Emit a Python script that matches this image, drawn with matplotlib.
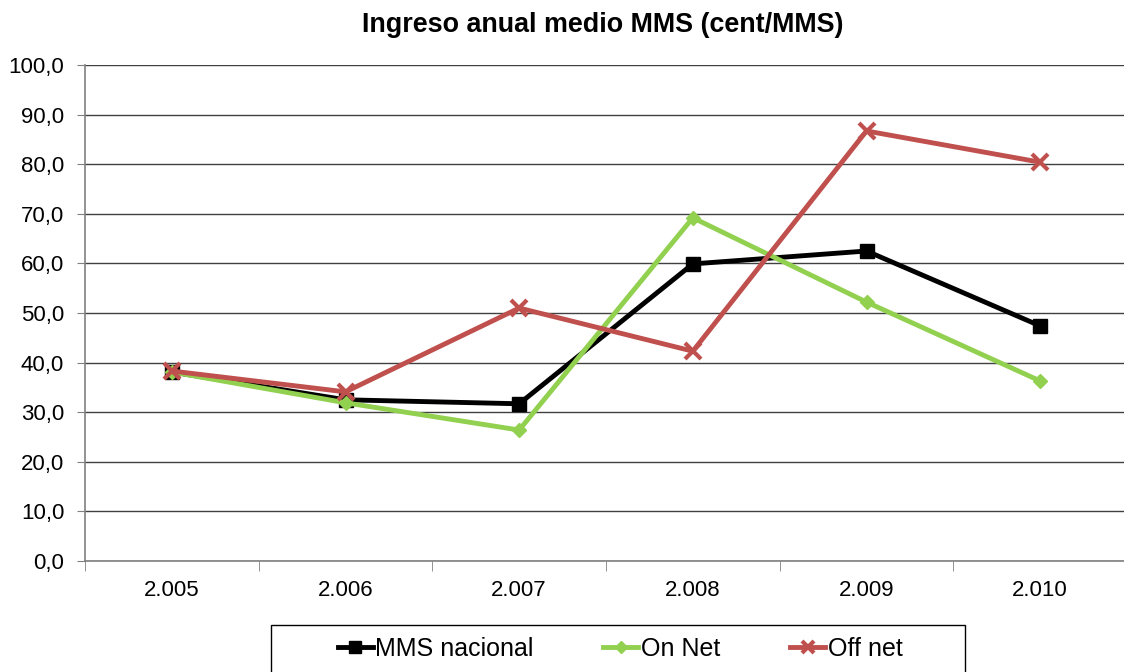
import matplotlib.pyplot as plt
from matplotlib.ticker import FixedLocator
from matplotlib.patches import Rectangle

plt.rcParams['font.family'] = ['Liberation Sans', 'DejaVu Sans']

years = ["2.005", "2.006", "2.007", "2.008", "2.009", "2.010"]
mms_nacional = [38.1, 32.5, 31.7, 59.9, 62.5, 47.4]
on_net = [38.1, 31.9, 26.4, 69.2, 52.2, 36.3]
off_net = [38.3, 34.1, 51.0, 42.3, 86.7, 80.4]

fig = plt.figure(figsize=(11.24, 6.72), dpi=100)
ax = fig.add_axes([85 / 1124, 1 - 561 / 672, 1042 / 1124, 496 / 672])

x = list(range(len(years)))
ax.plot(x, mms_nacional, color="black", lw=3.5, marker="s", ms=10,
        label="MMS nacional", zorder=3)
ax.plot(x, on_net, color="#92D050", lw=3.5, marker="D", ms=7.5,
        label="On Net", zorder=4)
ax.plot(x, off_net, color="#C0504D", lw=3.5, marker="x", ms=11, mew=3,
        label="Off net", zorder=5)

ax.set_xlim(-0.5, 5.5)
ax.set_ylim(0, 100)
ax.set_yticks(range(0, 101, 10))
ax.set_yticklabels([f"{v},0" for v in range(0, 101, 10)])
ax.set_xticks(x)
ax.set_xticklabels(years)
ax.xaxis.set_minor_locator(FixedLocator([i - 0.5 for i in range(7)]))
ax.tick_params(axis="x", which="major", length=0, pad=14, labelsize=16)
ax.tick_params(axis="x", which="minor", length=7, color="#808080")
ax.tick_params(axis="y", length=6, color="#808080", labelsize=16, pad=9)

ax.grid(axis="y", color="#404040", lw=1)
ax.set_axisbelow(True)
for s in ["top", "right"]:
    ax.spines[s].set_visible(False)
for s in ["left", "bottom"]:
    ax.spines[s].set_color("#808080")
    ax.spines[s].set_linewidth(1.2)

fig.text(603 / 1124, 1 - 25 / 672, "Ingreso anual medio MMS (cent/MMS)",
         ha="center", va="center", fontsize=19.4, fontweight="bold")

leg = fig.legend(loc="center", bbox_to_anchor=(620 / 1124, 1 - 649 / 672),
                 ncol=3, fontsize=18, frameon=False,
                 handlelength=1.4, handletextpad=0.1,
                 columnspacing=2.8, borderpad=0, borderaxespad=0,
                 markerscale=0.85)

fig.patches.append(Rectangle((271 / 1124, -0.05), 694 / 1124, 0.05 + 1 - 625 / 672,
                             transform=fig.transFigure, fill=False,
                             edgecolor="black", lw=1))

fig.savefig("out.png", dpi=100)
